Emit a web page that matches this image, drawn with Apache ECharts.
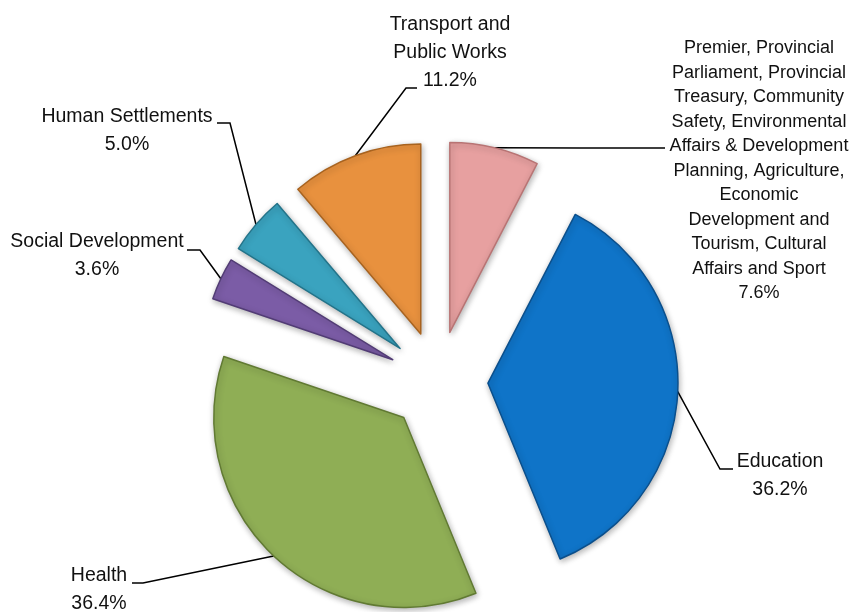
<!DOCTYPE html>
<html lang="en">
<head>
    <meta charset="UTF-8">
    <title>Provincial spending by vote</title>
    <script src="https://cdn.jsdelivr.net/npm/echarts@6/dist/echarts.min.js"></script>
    <style>
        html, body { margin: 0; padding: 0; background: #fff; }
        #main { width: 850px; height: 612px; }
    </style>
</head>
<body>
<div id="main"></div>
<script>
    // slices, clockwise from 12 o'clock
    var names = [
        'Premier, Provincial\nParliament, Provincial\nTreasury, Community\nSafety, Environmental\nAffairs & Development\nPlanning, Agriculture,\nEconomic\nDevelopment and\nTourism, Cultural\nAffairs and Sport',
        'Education',
        'Health',
        'Social Development',
        'Human Settlements',
        'Transport and\nPublic Works'
    ];
    var shares = [7.6, 36.2, 36.4, 3.6, 5.0, 11.2];
    var colors = ['#e7a0a0', '#0f74c8', '#8fae55', '#7b5ca6', '#3aa3bf', '#e8913e'];
    var edges = ['#b87474', '#0a4f8c', '#617a33', '#523c75', '#23748a', '#a8631f'];

    // label placement: text anchor (centre x, top y), font size, line height, bend point, line end
    var labelPos = [
        {x: 759, y: 36, fs: 18, lh: 24.5, bend: [580, 148], end: [665, 148]},
        {x: 780, y: 448, fs: 19.5, lh: 28, bend: [720, 469], end: [733, 469]},
        {x: 99, y: 562, fs: 19.5, lh: 28, bend: [143, 583], end: [132, 583]},
        {x: 97, y: 228, fs: 19.5, lh: 28, bend: [200, 250], end: [187, 250]},
        {x: 127, y: 103, fs: 19.5, lh: 28, bend: [230, 123], end: [217, 123]},
        {x: 450, y: 11, fs: 19.5, lh: 28, bend: [406, 88], end: [417, 88]}
    ];

    var cx = 438, cy = 381;   // pie centre before pulling slices out
    var explode = 50;         // every slice pulled out by the same amount

    var total = 0;
    for (var i = 0; i < shares.length; i++) total += shares[i];

    // one series per slice so that each can be pulled out along its own mid angle
    var series = [];
    var acc = 0;
    for (var k = 0; k < shares.length; k++) {
        var mid = (acc + shares[k] / 2) / total * 2 * Math.PI;
        acc += shares[k];
        var data = [];
        for (var j = 0; j < shares.length; j++) {
            var on = j === k;
            data.push({
                name: names[j],
                value: shares[j],
                itemStyle: on ? {color: colors[j], borderColor: edges[j]}
                              : {color: 'rgba(0,0,0,0)', borderWidth: 0, shadowBlur: 0},
                label: on ? {show: true, fontSize: labelPos[j].fs, lineHeight: labelPos[j].lh} : {show: false},
                labelLine: {show: on}
            });
        }
        series.push({
            type: 'pie',
            center: [cx + explode * Math.sin(mid), cy - explode * Math.cos(mid)],
            radius: [0, 190],
            startAngle: 90,
            clockwise: true,
            avoidLabelOverlap: false,
            data: data,
            itemStyle: {
                borderWidth: 1.5,
                shadowBlur: 6,
                shadowColor: 'rgba(0,0,0,0.3)',
                shadowOffsetX: 1,
                shadowOffsetY: 2
            },
            label: {
                position: 'outside',
                formatter: function (p) { return p.name + '\n' + p.value.toFixed(1) + '%'; },
                fontFamily: 'Liberation Sans, Arial, sans-serif',
                color: '#111',
                align: 'center'
            },
            labelLine: {
                lineStyle: {color: '#000', width: 1.5}
            },
            labelLayout: function (params) {
                var lp = labelPos[params.dataIndex];
                var pts = params.labelLinePoints;
                if (!pts) return {};
                return {
                    x: lp.x,
                    y: lp.y,
                    align: 'center',
                    verticalAlign: 'top',
                    labelLinePoints: [pts[0], lp.bend, lp.end]
                };
            },
            emphasis: {disabled: true},
            silent: true
        });
    }

    var chart = echarts.init(document.getElementById('main'));
    chart.setOption({
        animation: false,
        series: series
    });
</script>
</body>
</html>
